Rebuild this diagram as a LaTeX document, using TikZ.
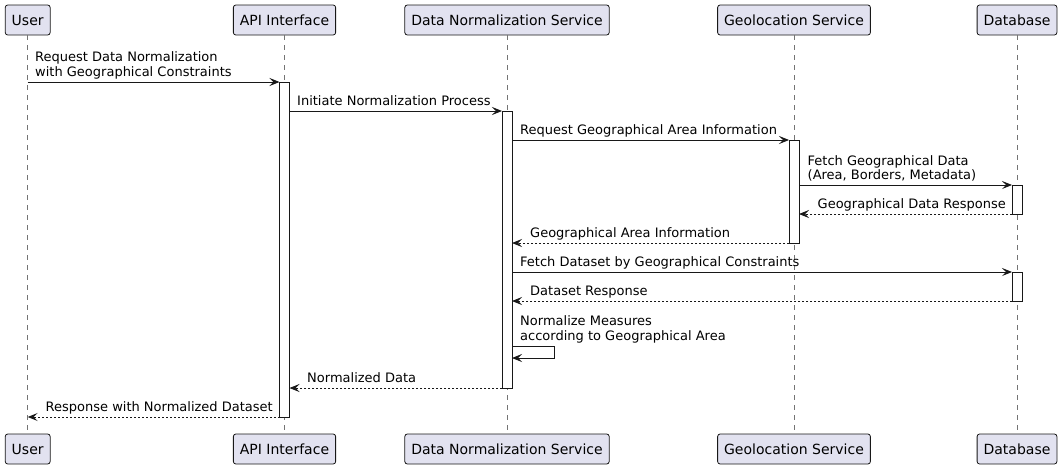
\documentclass[tikz,border=0pt]{standalone}
\usepackage{fontspec}
\setmainfont{DejaVu Sans}
\usetikzlibrary{arrows.meta}
\definecolor{lnc}{HTML}{181818}
\definecolor{pfill}{HTML}{E2E2F0}
\begin{document}
\begin{tikzpicture}[x=1pt,y=-1pt,
  part/.style={draw=lnc,fill=pfill,line width=0.8pt,rounded corners=2.5pt,minimum height=30pt,inner xsep=6.5pt,inner ysep=0pt,font=\fontsize{14}{16}\selectfont},
  lifeline/.style={draw=lnc!60,line width=0.7pt,dash pattern=on 5pt off 5pt},
  actbox/.style={draw=lnc,fill=white,line width=0.8pt,minimum width=10pt,inner sep=0pt,outer sep=0pt},
  msg/.style={draw=lnc,line width=0.9pt,-{Stealth[length=10pt,width=8pt,inset=4pt]}},
  ret/.style={msg,dash pattern=on 2pt off 2pt},
  lbl/.style={anchor=base west,inner sep=0pt,align=left,font=\fontsize{13}{14.5}\selectfont}
]
\useasboundingbox (0,0) rectangle (1062,469);
% participants
\node[part] (uT) at (27.7,20) {User};
\node[part] (aT) at (284.5,20) {API Interface};
\node[part] (dT) at (507,20) {Data Normalization Service};
\node[part] (gT) at (794,20) {Geolocation Service};
\node[part] (bT) at (1017,20) {Database};
\node[part] (uB) at (27.7,449) {User};
\node[part] (aB) at (284.5,449) {API Interface};
\node[part] (dB) at (507,449) {Data Normalization Service};
\node[part] (gB) at (794,449) {Geolocation Service};
\node[part] (bB) at (1017,449) {Database};
% lifelines
\draw[lifeline] (uT.south) -- (uB.north);
\draw[lifeline] (aT.south) -- (aB.north);
\draw[lifeline] (dT.south) -- (dB.north);
\draw[lifeline] (gT.south) -- (gB.north);
\draw[lifeline] (bT.south) -- (bB.north);
% activations
\node[actbox,minimum height=335pt] (aA) at (284.5,249.5) {};
\node[actbox,minimum height=277pt] (dA) at (507,249.5) {};
\node[actbox,minimum height=103pt] (gA) at (794,191.5) {};
\node[actbox,minimum height=29pt] (bA1) at (1017,199.5) {};
\node[actbox,minimum height=29pt] (bA2) at (1017,286.5) {};
% coordinates on lifelines
\coordinate (u1) at (27.7,82);
\coordinate (u11) at (27.7,417);
\coordinate (y2) at (0,111);
\coordinate (y3) at (0,140);
\coordinate (y6) at (0,243);
\coordinate (y8) at (0,301);
\coordinate (y10) at (0,388);
\coordinate (s1) at (0,346);
\coordinate (s2) at (0,358);
\coordinate (sR) at (554,0);
% messages
\draw[msg] (u1) -- (aA.north west);
\node[lbl] at (35,76) {Request Data Normalization\\with Geographical Constraints};
\draw[msg] (aA.east |- y2) -- (dA.north west);
\node[lbl] at (297,105.5) {Initiate Normalization Process};
\draw[msg] (dA.east |- y3) -- (gA.north west);
\node[lbl] at (520,134.5) {Request Geographical Area Information};
\draw[msg] (gA.east |- bA1.north) -- (bA1.north west);
\node[lbl] at (807.5,179.5) {Fetch Geographical Data\\(Area, Borders, Metadata)};
\draw[ret] (bA1.south west) -- (gA.east |- bA1.south);
\node[lbl] at (817.5,208.5) {Geographical Data Response};
\draw[ret] (gA.south west) -- (dA.east |- y6);
\node[lbl] at (530,237.5) {Geographical Area Information};
\draw[msg] (dA.east |- bA2.north) -- (bA2.north west);
\node[lbl] at (520,266.5) {Fetch Dataset by Geographical Constraints};
\draw[ret] (bA2.south west) -- (dA.east |- y8);
\node[lbl] at (530,295.5) {Dataset Response};
\draw[msg] (dA.east |- s1) -- (sR |- s1) -- (sR |- s2) -- (dA.east |- s2);
\node[lbl] at (520,340) {Normalize Measures\\according to Geographical Area};
\draw[ret] (dA.south west) -- (aA.east |- y10);
\node[lbl] at (307,382.5) {Normalized Data};
\draw[ret] (aA.south west) -- (u11);
\node[lbl] at (45.5,411.5) {Response with Normalized Dataset};
\end{tikzpicture}
\end{document}
